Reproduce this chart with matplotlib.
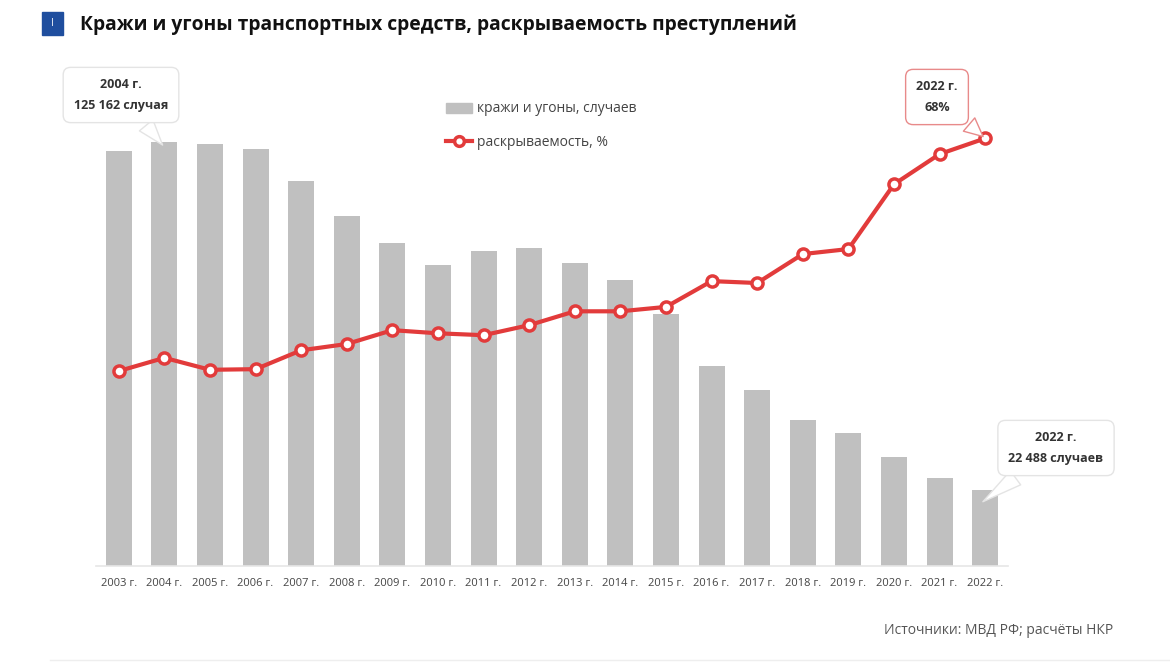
import matplotlib.pyplot as plt
from matplotlib.patches import Rectangle
from matplotlib.lines import Line2D
import numpy as np

plt.rcParams['font.family'] = ['Open Sans', 'DejaVu Sans']

years = ['2003 г.', '2004 г.', '2005 г.', '2006 г.', '2007 г.', '2008 г.', '2009 г.',
         '2010 г.', '2011 г.', '2012 г.', '2013 г.', '2014 г.', '2015 г.', '2016 г.',
         '2017 г.', '2018 г.', '2019 г.', '2020 г.', '2021 г.', '2022 г.']
thefts = [122500, 125162, 124600, 123100, 113600, 103300, 95300, 88800, 93000, 93900,
          89400, 84400, 74400, 59000, 52000, 43100, 39300, 32200, 26000, 22488]
clearance = [31.0, 33.1, 31.2, 31.3, 34.3, 35.3, 37.5, 37.0, 36.7, 38.3,
             40.5, 40.5, 41.2, 45.3, 45.0, 49.6, 50.4, 60.7, 65.5, 68.0]

bar_color = '#c0c0c0'
red = '#e23b3b'
x = np.arange(len(years))

fig = plt.figure(figsize=(11.7, 6.64), dpi=100)
ax = fig.add_axes([96 / 1170, 98 / 664, 912 / 1170, 466 / 664])
ax.bar(x, thefts, width=0.57, color=bar_color, zorder=2)
ax.set_xlim(-0.5, len(years) - 0.5)
ax.set_ylim(0, 137600)
ax.set_xticks(x)
ax.set_xticklabels(years, fontsize=8, color='#444444')
ax.tick_params(axis='x', length=0, pad=9)
ax.set_yticks([])
for s in ['top', 'right', 'left']:
    ax.spines[s].set_visible(False)
ax.spines['bottom'].set_color('#e6e6e6')
ax.spines['bottom'].set_linewidth(1.2)

ax2 = ax.twinx()
ax2.plot(x, clearance, color=red, lw=3, marker='o', ms=8, mfc='white',
         mec=red, mew=2.5, zorder=5)
ax2.set_ylim(0, 74.1)
ax2.set_yticks([])
for s in ax2.spines.values():
    s.set_visible(False)

# legend
handles = [Rectangle((0, 0), 1, 1, color=bar_color),
           Line2D([], [], color=red, lw=3, marker='o', ms=7, mfc='white', mec=red, mew=2.5)]
fig.legend(handles, ['кражи и угоны, случаев', 'раскрываемость, %'],
           loc='upper left', bbox_to_anchor=(433 / 1170, 1 - 89 / 664), frameon=False,
           fontsize=10, labelcolor='#444444', handlelength=1.9, handletextpad=0.4,
           labelspacing=1.3)

# callouts
def callout(axis, xy, text_xy, text, ec):
    axis.annotate(text, xy=xy, xytext=text_xy, textcoords='figure pixels',
                  ha='center', va='center', fontsize=9, fontweight='bold',
                  color='#333333', linespacing=1.8, zorder=10,
                  bbox=dict(boxstyle='round,pad=0.85,rounding_size=0.6', fc='white', ec=ec, lw=1),
                  arrowprops=dict(arrowstyle='wedge,tail_width=1.4,shrink_factor=0.5',
                                  fc='white', ec=ec, lw=1))

callout(ax, (1, thefts[1] - 1500), (121, 664 - 95), '2004 г.\n125 162 случая', '#e4e4e4')
callout(ax2, (19, clearance[19]), (937, 664 - 97), '2022 г.\n68%', '#e88a8a')
callout(ax, (18.9, thefts[19] - 4000), (1056, 664 - 448), '2022 г.\n22 488 случаев', '#e4e4e4')

# title
fig.patches.append(Rectangle((42 / 1170, 1 - 35 / 664), 21 / 1170, 23 / 664,
                             transform=fig.transFigure, color='#1f4e9e'))
fig.text(52.5 / 1170, 1 - 23.5 / 664, 'I', color='white', fontsize=7, ha='center', va='center')
fig.text(80 / 1170, 1 - 25 / 664, 'Кражи и угоны транспортных средств, раскрываемость преступлений',
         fontsize=13.9, fontweight='bold', color='#111111', ha='left', va='center')

fig.text(1113 / 1170, 1 - 630 / 664, 'Источники: МВД РФ; расчёты НКР',
         fontsize=10, color='#555555', ha='right', va='center')
fig.add_artist(Line2D([50 / 1170, 1], [1 - 660 / 664] * 2, color='#eeeeee', lw=1,
                      transform=fig.transFigure))

fig.savefig('out.png', dpi=100)
